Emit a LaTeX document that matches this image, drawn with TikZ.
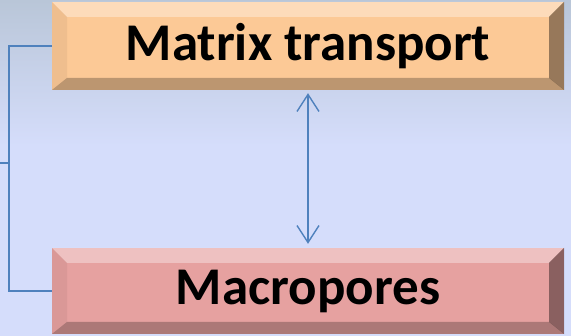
\documentclass[tikz,border=0pt]{standalone}
\usepackage{fontspec}
\setmainfont{Carlito}
\usepackage{xcolor}
\usetikzlibrary{arrows.meta,positioning,calc}

\definecolor{peach}{HTML}{FCC996}
\definecolor{rose}{HTML}{E6A1A0}
\definecolor{linkblue}{HTML}{4F81BD}
\definecolor{bgtop}{HTML}{B9C6D8}
\definecolor{bgbot}{HTML}{D5DDFB}

\begin{document}
\begin{tikzpicture}[x=1pt, y=1pt]
% Define styles
\tikzstyle{bevelbox} = [rectangle, minimum width=512pt, inner sep=0pt, font=\bfseries\fontsize{53}{62}\selectfont,
  path picture={
    \coordinate (nw) at (path picture bounding box.north west);
    \coordinate (ne) at (path picture bounding box.north east);
    \coordinate (sw) at (path picture bounding box.south west);
    \coordinate (se) at (path picture bounding box.south east);
    \fill[white, opacity=0.35] (nw) -- (ne) -- ($(ne)+(-15,-15)$) -- ($(nw)+(15,-15)$) -- cycle;
    \fill[black, opacity=0.05] (nw) -- ($(nw)+(15,-15)$) -- ($(sw)+(15,12)$) -- (sw) -- cycle;
    \fill[black, opacity=0.25] (sw) -- ($(sw)+(15,12)$) -- ($(se)+(-15,12)$) -- (se) -- cycle;
    \fill[black, opacity=0.4] (ne) -- (se) -- ($(se)+(-15,12)$) -- ($(ne)+(-15,-15)$) -- cycle;
  }]
\tikzstyle{link} = [linkblue, line width=2pt]
\tikzstyle{arrow} = [linkblue, line width=1.4pt, {Straight Barb[length=17pt,width=22pt]}-{Straight Barb[length=17pt,width=22pt]}]

% Background
\useasboundingbox (0,0) rectangle (571,336);
\shade[top color=bgtop, bottom color=bgbot] (0,336) rectangle (571,190);
\fill[bgbot] (0,0) rectangle (571,190);

% Boxes
\node[bevelbox, fill=peach, minimum height=88pt] (mtx) at (308,290) {Matrix transport};
\node[bevelbox, fill=rose, minimum height=86pt] (macro) at (308,45) {Macropores};

% Left bracket
\coordinate (spine) at (9,173);
\coordinate (stub) at (0,173);
\draw[link] (mtx.west) -| (spine) |- (macro.west);
\draw[link] (spine) -- (stub);

% Exchange arrow
\draw[arrow, shorten <=3pt, shorten >=4pt] (mtx.south) -- (macro.north);

\end{tikzpicture}
\end{document}
